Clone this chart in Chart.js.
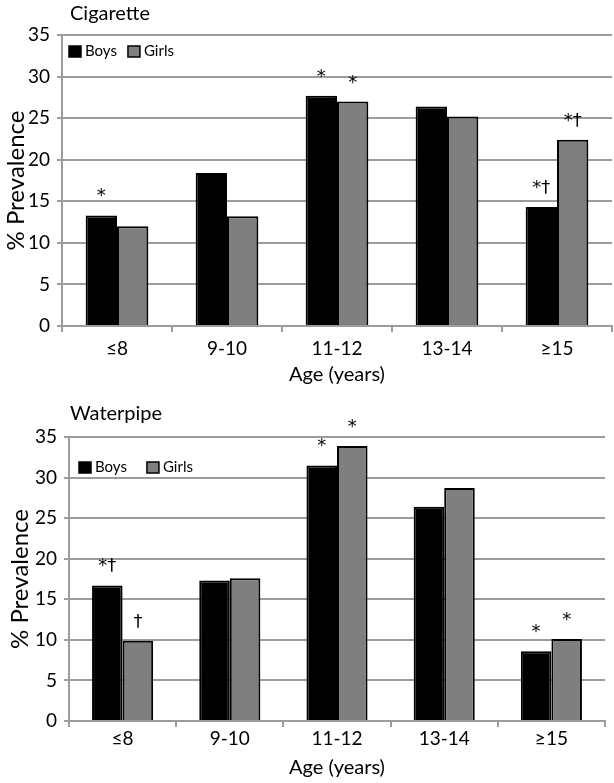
<!DOCTYPE html>
<html>
<head>
<meta charset="utf-8">
<script src="https://cdn.jsdelivr.net/npm/chart.js@4.4.1/dist/chart.umd.min.js"></script>
<style>
  html, body { margin: 0; padding: 0; background: #fff; }
  body { width: 614px; height: 783px; position: relative; overflow: hidden; font-family: Lato, sans-serif; }
  .panel { position: absolute; left: 0; width: 614px; }
  .panel-title { position: absolute; left: 70px; font-size: 20px; color: #000; line-height: 24px; }
</style>
</head>
<body>
<div class="panel" style="top:0;height:390px">
  <canvas id="cigChart"></canvas>
  <div class="panel-title" style="top:0px">Cigarette</div>
</div>
<div class="panel" style="top:390px;height:393px">
  <canvas id="pipeChart"></canvas>
  <div class="panel-title" style="top:10px">Waterpipe</div>
</div>
<script>
// Data
const ageGroups = ['≤8', '9-10', '11-12', '13-14', '≥15'];

const cigBoys = [13.3, 18.4, 27.7, 26.4, 14.3];
const cigGirls = [12.0, 13.2, 27.0, 25.2, 22.4];
const cigBoysMarks = ['*', '', '*', '', '*†'];
const cigGirlsMarks = ['', '', '*', '', '*†'];

const pipeBoys = [16.7, 17.3, 31.5, 26.4, 8.6];
const pipeGirls = [9.9, 17.6, 33.9, 28.7, 10.1];
const pipeBoysMarks = ['*†', '', '*', '', '*'];
const pipeGirlsMarks = ['†', '', '*', '', '*'];

const yMin = 0, yMax = 35, yStep = 5;

Chart.defaults.font.family = 'Lato, "Open Sans", sans-serif';
Chart.defaults.color = '#000';

const gridGray = '#9c9c9c';

// significance marks above bars
const marksPlugin = {
    id: 'marks',
    afterDatasetsDraw(chart, args, opts) {
        const ctx = chart.ctx;
        ctx.save();
        ctx.fillStyle = '#000';
        ctx.font = '18px "DejaVu Sans", sans-serif';
        ctx.textAlign = 'center';
        ctx.textBaseline = 'alphabetic';
        opts.marks.forEach((list, i) => {
            const meta = chart.getDatasetMeta(i);
            meta.data.forEach((bar, j) => {
                if (list[j]) ctx.fillText(list[j], bar.x, bar.y - 14);
            });
        });
        ctx.restore();
    }
};

// small legend inside the plot, top-left
const boxLegend = {
    id: 'boxLegend',
    afterDraw(chart, args, opts) {
        const ctx = chart.ctx;
        const area = chart.chartArea;
        let x = area.left + opts.dx;
        const y = area.top + opts.dy;
        ctx.save();
        ctx.font = '15px Lato, sans-serif';
        ctx.textBaseline = 'middle';
        ctx.textAlign = 'left';
        chart.data.datasets.forEach((ds) => {
            ctx.fillStyle = ds.backgroundColor;
            ctx.fillRect(x, y - 5, 12, 11);
            ctx.lineWidth = 1.5;
            ctx.strokeStyle = '#000';
            ctx.strokeRect(x, y - 5, 12, 11);
            ctx.fillStyle = '#000';
            ctx.fillText(ds.label, x + 16, y);
            x += 16 + ctx.measureText(ds.label).width + opts.gap;
        });
        ctx.restore();
    }
};

function makeChart(id, boys, girls, marks, lay) {
    const ctx = document.getElementById(id).getContext('2d');
    return new Chart(ctx, {
        type: 'bar',
        data: {
            labels: ageGroups,
            datasets: [{
                label: 'Boys',
                data: boys,
                backgroundColor: '#000',
                borderColor: '#000',
                borderWidth: 2
            }, {
                label: 'Girls',
                data: girls,
                backgroundColor: '#7f7f7f',
                borderColor: '#000',
                borderWidth: 2
            }]
        },
        options: {
            responsive: true,
            maintainAspectRatio: false,
            animation: false,
            categoryPercentage: 0.57,
            barPercentage: 1.0,
            layout: { padding: { top: lay.top, right: lay.right, left: 0, bottom: 0 } },
            plugins: {
                legend: { display: false },
                tooltip: { enabled: false },
                marks: { marks: marks },
                boxLegend: lay.legend
            },
            scales: {
                x: {
                    grid: { drawOnChartArea: false, color: gridGray, lineWidth: 2, tickLength: 6 },
                    border: { color: gridGray, width: 2 },
                    ticks: { font: { size: 19 }, padding: lay.xPad },
                    title: { display: true, text: 'Age (years)', font: { size: 20 }, padding: { top: 0, bottom: 3 } },
                    afterFit: (s) => { s.height = lay.xHeight; }
                },
                y: {
                    min: yMin,
                    max: yMax,
                    ticks: { stepSize: yStep, font: { size: 19 }, padding: 7 },
                    grid: { color: gridGray, lineWidth: 2, tickLength: 5 },
                    border: { color: gridGray, width: 2 },
                    title: { display: true, text: '% Prevalence', font: { size: 24 }, padding: { top: lay.yTitlePad, bottom: 0 } },
                    afterFit: (s) => { s.width = lay.yWidth; }
                }
            }
        },
        plugins: [marksPlugin, boxLegend]
    });
}

makeChart('cigChart', cigBoys, cigGirls, [cigBoysMarks, cigGirlsMarks],
    { top: 35, right: 2, yWidth: 62, xHeight: 64, xPad: 5, yTitlePad: 2,
      legend: { dx: 7, dy: 16, gap: 11 } });
makeChart('pipeChart', pipeBoys, pipeGirls, [pipeBoysMarks, pipeGirlsMarks],
    { top: 47, right: 9, yWidth: 69, xHeight: 62, xPad: 0, yTitlePad: 6,
      legend: { dx: 10, dy: 30, gap: 20 } });
</script>
</body>
</html>
